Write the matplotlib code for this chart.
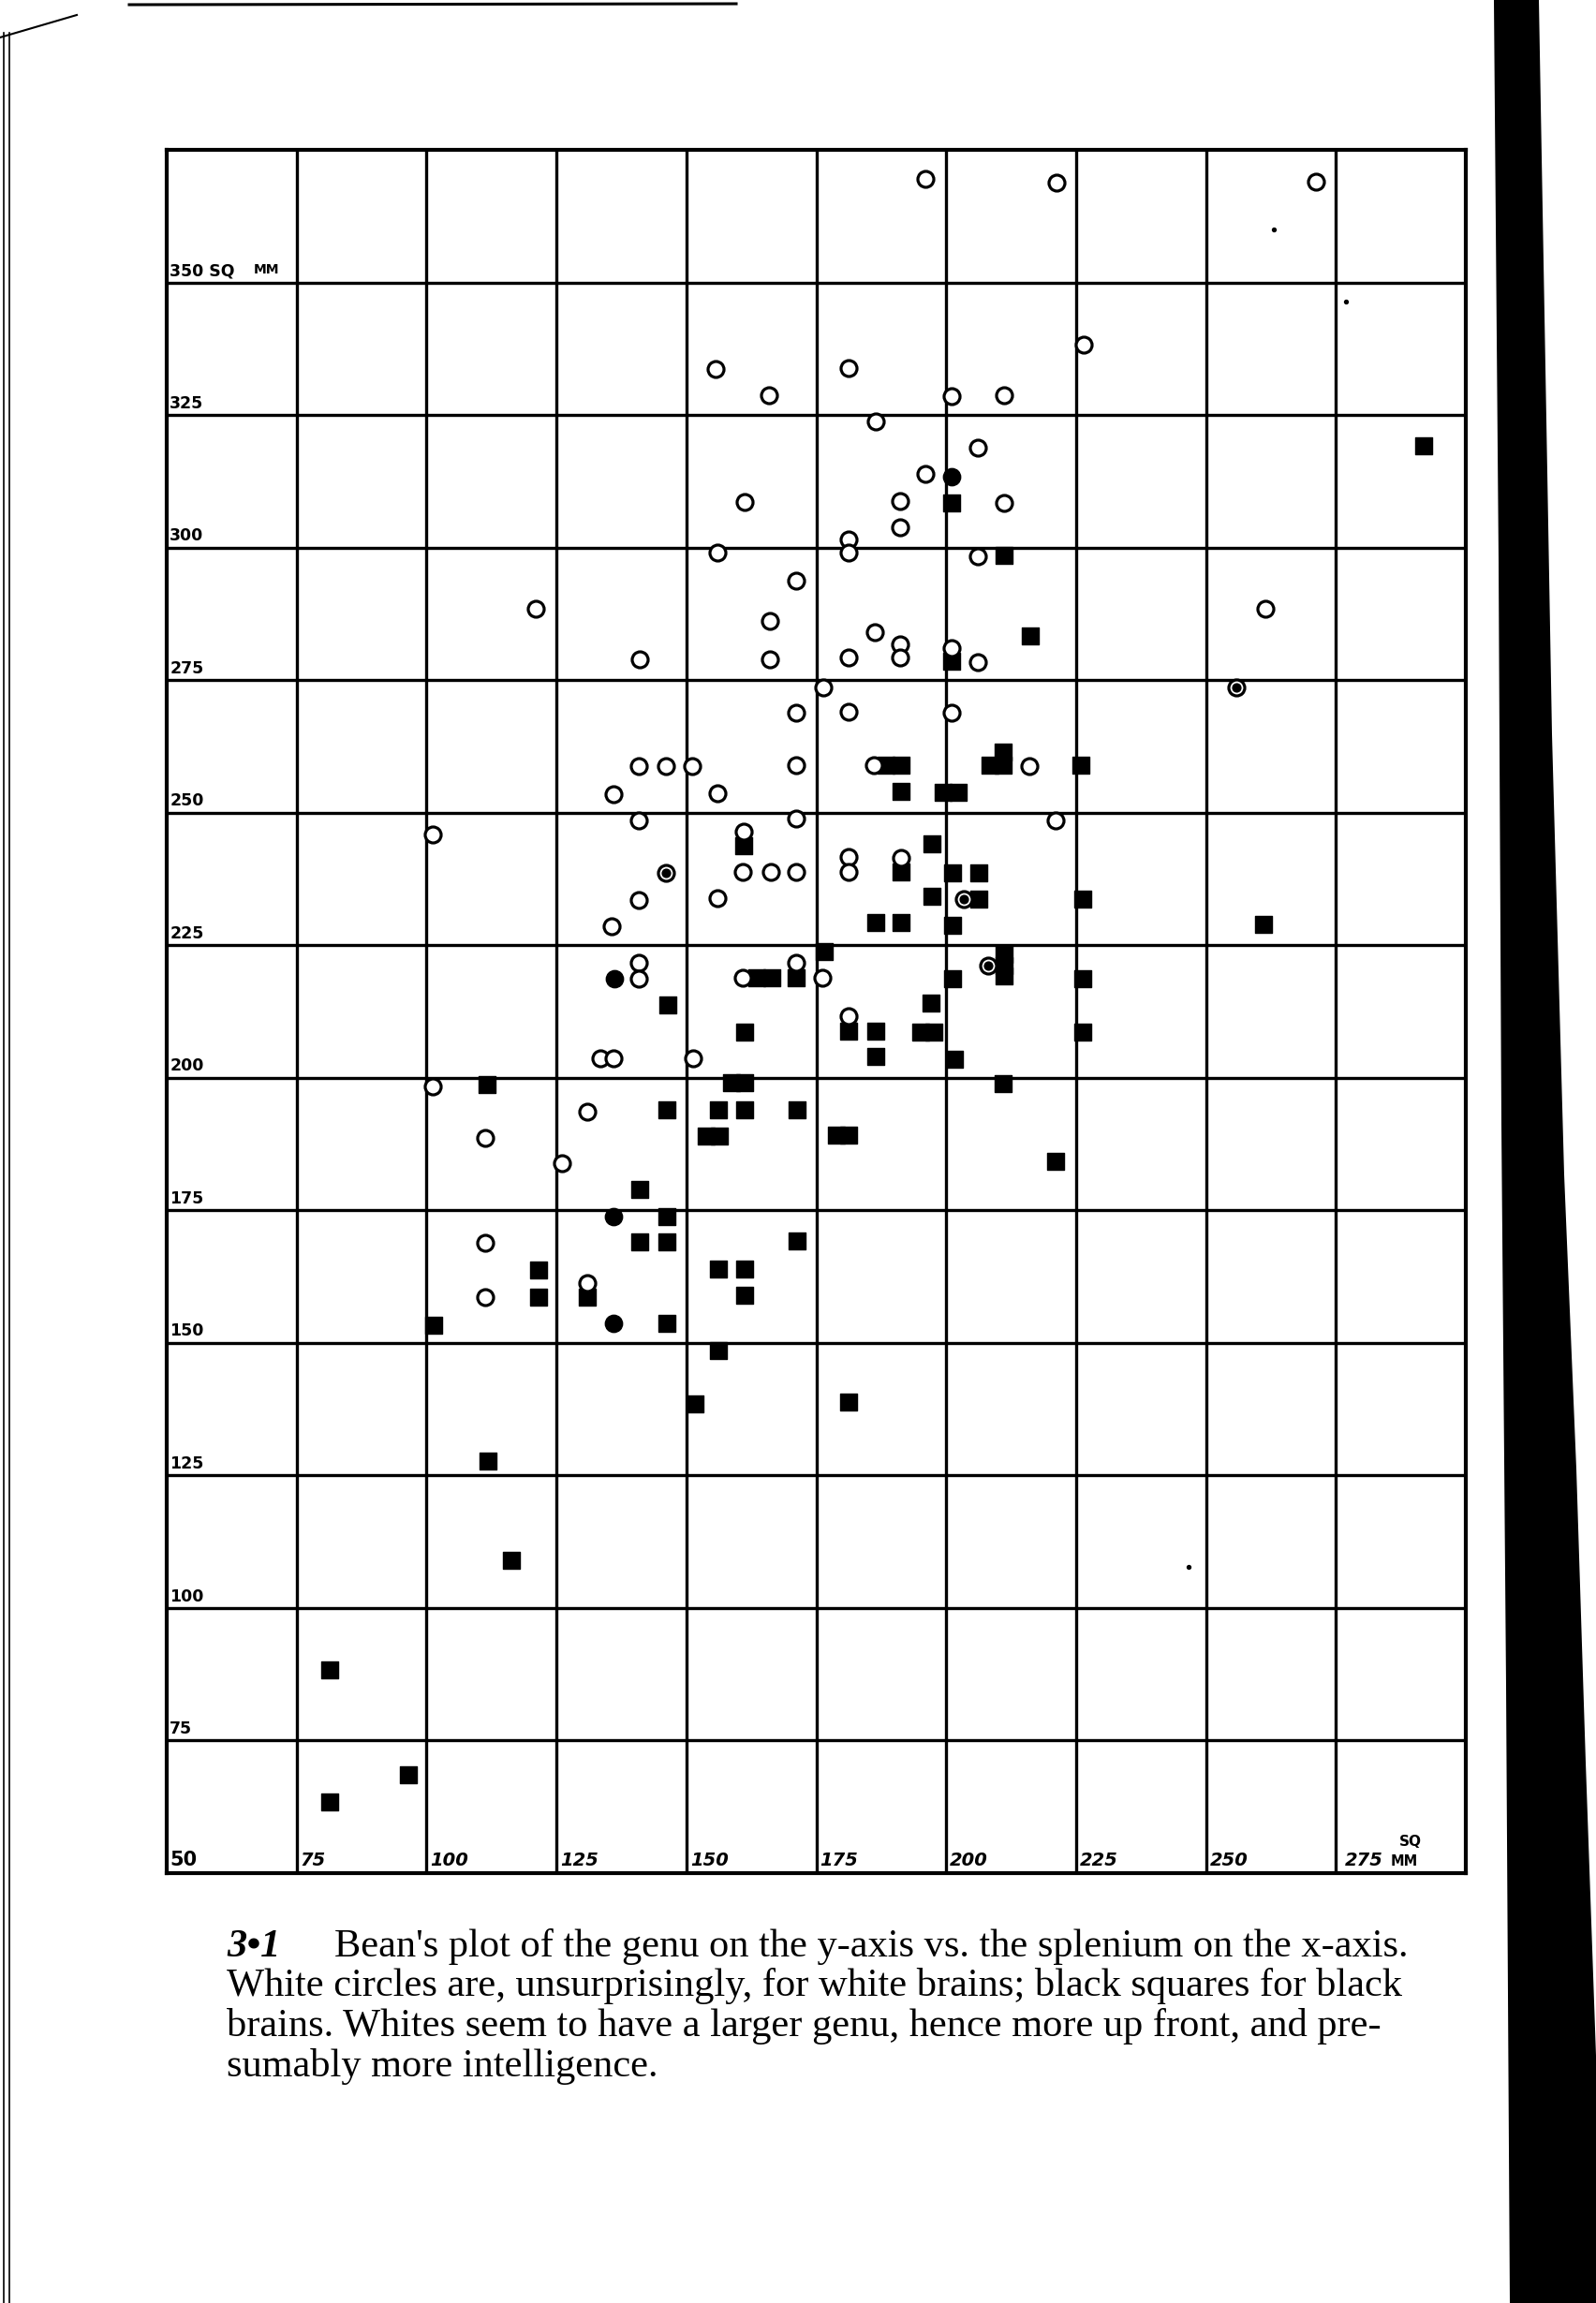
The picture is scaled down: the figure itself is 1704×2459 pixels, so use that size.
import matplotlib
matplotlib.use("Agg")
import matplotlib.pyplot as plt
from matplotlib.patches import Polygon
from matplotlib.lines import Line2D

# splenium (x) vs genu (y), sq mm
white_x = [196.0, 221.2, 271.2,
           155.7, 181.2, 165.9, 226.4, 201.1, 211.1,
           186.4, 196.0, 161.2, 191.2, 191.2, 181.2, 206.1, 211.1, 206.1,
           181.2, 155.9, 171.1, 121.1, 166.1, 186.2, 191.2, 191.2, 181.2, 166.1, 141.0, 261.4, 201.1, 206.1,
           176.3, 171.1, 181.2, 201.1, 140.8, 146.1, 151.1, 171.1, 186.0, 216.0, 135.9, 155.9,
           140.8, 171.1, 221.0, 101.1, 161.1, 181.2, 181.2, 191.3, 160.9, 166.2, 171.1, 140.8, 155.9, 135.6,
           140.9, 140.9, 160.9, 171.1, 176.2, 181.2, 133.4, 135.9, 151.3,
           101.1, 131.0, 111.3, 126.1,
           111.3, 111.3, 131.0]
white_y = [369.6, 368.9, 369.0,
           333.7, 333.8, 328.8, 338.3, 328.6, 328.7,
           323.8, 313.9, 308.6, 308.8, 303.9, 301.6, 318.8, 308.4, 298.4,
           299.1, 299.1, 293.8, 288.5, 286.1, 284.0, 281.7, 279.2, 279.2, 278.9, 278.9, 288.5, 281.0, 278.4,
           273.6, 268.9, 269.0, 268.8, 258.7, 258.7, 258.7, 258.9, 259.0, 258.7, 253.5, 253.7,
           248.5, 248.9, 248.5, 245.8, 246.4, 241.7, 238.8, 241.4, 238.8, 238.8, 238.8, 233.5, 233.9, 228.5,
           221.6, 218.6, 218.9, 221.6, 218.9, 211.6, 203.6, 203.6, 203.6,
           198.4, 193.6, 188.6, 183.8,
           168.8, 158.6, 161.3]

black_x = [201.1, 211.1, 291.9,
           216.1, 201.1,
           188.5, 191.3, 191.3, 211.0, 208.4, 211.0, 226.0, 199.5, 202.3,
           161.1, 197.3, 191.3, 201.2, 206.2, 197.3, 206.3, 226.2, 186.5, 191.4, 201.2, 261.0,
           176.5, 163.6, 166.4, 171.1, 211.1, 211.1, 211.1, 201.2, 226.2, 146.5, 197.0, 181.2, 186.5,
           195.1, 197.7, 161.2, 226.2, 186.5, 201.5,
           111.6, 158.7, 161.3, 211.0, 146.3, 156.2, 161.2, 171.3, 153.9, 156.4, 178.8, 181.3, 221.1, 141.1,
           146.3, 141.1, 146.3, 171.3, 121.5, 121.5, 156.2, 161.3, 131.0, 161.3, 101.4, 146.3,
           156.2, 151.6, 181.3, 111.8,
           116.3, 81.3, 96.5, 81.3]
black_y = [308.4, 298.5, 319.1,
           283.4, 278.5,
           259.0, 259.0, 254.0, 261.5, 258.9, 258.9, 258.9, 253.8, 253.8,
           243.8, 244.2, 238.8, 238.7, 238.7, 234.2, 233.7, 233.7, 229.2, 229.2, 228.7, 229.0,
           223.8, 218.9, 218.9, 218.8, 223.2, 221.2, 219.2, 218.7, 218.7, 213.8, 214.1, 208.8, 208.8,
           208.7, 208.7, 208.6, 208.6, 204.1, 203.5,
           198.7, 199.0, 199.0, 198.9, 194.0, 194.0, 194.0, 194.0, 189.0, 189.0, 189.2, 189.2, 184.2, 178.9,
           173.9, 169.0, 169.0, 169.3, 163.7, 158.6, 164.0, 164.0, 158.6, 158.9, 153.4, 153.7,
           148.6, 138.5, 138.8, 127.8,
           109.0, 88.3, 68.5, 63.4]

# marks printed as solid round dots
solid_x = [201.1, 136.1, 135.9, 135.9]
solid_y = [313.4, 218.6, 173.8, 153.7]

# circles with a dot in the centre
dotted_x = [146.1, 203.3, 208.1, 255.9]
dotted_y = [238.7, 233.7, 221.1, 273.7]

# stray specks on the print
speck_x = [263.1, 277.0, 246.6]
speck_y = [360.0, 346.3, 107.8]

x_ticks = [75, 100, 125, 150, 175, 200, 225, 250]
y_ticks = [75, 100, 125, 150, 175, 200, 225, 250, 275, 300, 325]

caption_lines = [
    "White circles are, unsurprisingly, for white brains; black squares for black",
    "brains. Whites seem to have a larger genu, hence more up front, and pre-",
    "sumably more intelligence.",
]

W, H = 1704, 2459
fig = plt.figure(figsize=(W / 100, H / 100), dpi=100)
fig.patch.set_facecolor("white")

ax = fig.add_axes([178 / W, 1 - 2000 / H, 1387 / W, 1840 / H])
ax.set_xlim(50, 300)
ax.set_ylim(50, 375)
ax.set_xticks([])
ax.set_yticks([])
for s in ax.spines.values():
    s.set_linewidth(3.0)
    s.set_color("black")

for v in range(75, 300, 25):
    ax.axvline(v, color="black", lw=2.4, zorder=1)
for v in range(75, 375, 25):
    ax.axhline(v, color="black", lw=2.4, zorder=1)

ax.scatter(black_x, black_y, marker="s", s=150, color="black", zorder=3)
ax.scatter(solid_x, solid_y, marker="o", s=175, color="black", zorder=3)
ax.scatter(white_x, white_y, marker="o", s=150, facecolor="white",
           edgecolor="black", linewidth=2.3, zorder=4)
ax.scatter(dotted_x, dotted_y, marker="o", s=150, facecolor="white",
           edgecolor="black", linewidth=2.3, zorder=4)
ax.scatter(dotted_x, dotted_y, marker="o", s=40, color="black", zorder=5)
ax.scatter(speck_x, speck_y, marker="o", s=8, color="black", zorder=5)

# hand-lettered scale labels inside the grid
lab = dict(fontweight="bold", color="black", zorder=6)
for v in y_ticks:
    ax.text(50.6, v + 0.6, str(v), fontsize=12.5, ha="left", va="bottom", **lab)
ax.text(50.6, 350.6, "350 SQ", fontsize=12.5, ha="left", va="bottom", **lab)
ax.text(66.8, 351.2, "MM", fontsize=10, ha="left", va="bottom", **lab)

for v in x_ticks:
    ax.text(v + 0.7, 50.7, str(v), fontsize=14, style="italic",
            ha="left", va="bottom", **lab)
ax.text(50.6, 50.7, "50", fontsize=15, ha="left", va="bottom", **lab)
ax.text(276.8, 50.7, "275", fontsize=14, style="italic", ha="left", va="bottom", **lab)
ax.text(285.6, 50.9, "MM", fontsize=10.5, ha="left", va="bottom", **lab)
ax.text(289.4, 54.6, "SQ", fontsize=11, ha="center", va="bottom", **lab)

# caption
cap = dict(family="Liberation Serif", fontsize=30.5, color="black", va="baseline")
fig.text(242 / W, 1 - 2089 / H, "3•1", style="italic", fontweight="bold", **cap)
fig.text(357 / W, 1 - 2089 / H,
         "Bean's plot of the genu on the y-axis vs. the splenium on the x-axis.", **cap)
for i, line in enumerate(caption_lines):
    fig.text(242 / W, 1 - (2131 + 43 * i) / H, line, **cap)

# page binding shadow on the right and the ruled edge on the left
edge = [(1595, 0), (1643, 0), (1657, 784), (1670, 1254), (1683, 1568),
        (1693, 1882), (1704, 2195), (1704, 2459), (1612, 2459),
        (1608, 1800), (1603, 1200), (1600, 600)]
fig.add_artist(Polygon([(x / W, 1 - y / H) for x, y in edge], closed=True,
                       transform=fig.transFigure, color="black", lw=0))
for xe in (4, 10):
    fig.add_artist(Line2D([xe / W, xe / W], [1 - 35 / H, 0], transform=fig.transFigure,
                          color="black", lw=1.2))
fig.add_artist(Line2D([0, 82 / W], [1 - 40 / H, 1 - 16 / H], transform=fig.transFigure,
                      color="black", lw=1.5))
fig.add_artist(Line2D([138 / W, 786 / W], [1 - 5 / H, 1 - 4 / H], transform=fig.transFigure,
                      color="black", lw=2.2))

fig.savefig("out.png", dpi=100)
